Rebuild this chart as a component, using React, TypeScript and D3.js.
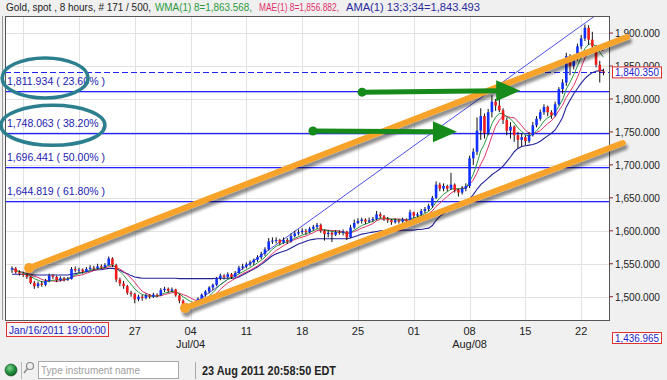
import React from "react";
import * as d3 from "d3";

const W = 667;
const H = 380;

// [open, high, low, close] for each 8-hour bar
const candles: [number, number, number, number][] = [
  [1541, 1546, 1536, 1543], [1543, 1545, 1535, 1537], [1537, 1540, 1532, 1535],
  [1535, 1538, 1530, 1533], [1533, 1536, 1527, 1530], [1530, 1531, 1519, 1521],
  [1521, 1524, 1512, 1516], [1516, 1523, 1513, 1520], [1520, 1524, 1515, 1518],
  [1518, 1527, 1516, 1524], [1524, 1535, 1522, 1532], [1532, 1534, 1527, 1530],
  [1530, 1532, 1522, 1525], [1525, 1531, 1523, 1528], [1528, 1530, 1523, 1526],
  [1526, 1530, 1524, 1527], [1527, 1545, 1526, 1542], [1542, 1546, 1537, 1540],
  [1540, 1544, 1536, 1541], [1541, 1543, 1535, 1538], [1538, 1545, 1537, 1542],
  [1542, 1548, 1540, 1544], [1544, 1547, 1540, 1543], [1543, 1550, 1541, 1546],
  [1546, 1549, 1542, 1545], [1545, 1551, 1543, 1548], [1548, 1561, 1547, 1558],
  [1558, 1560, 1545, 1548], [1548, 1550, 1522, 1526], [1526, 1529, 1516, 1520],
  [1520, 1524, 1512, 1516], [1516, 1518, 1503, 1506], [1506, 1509, 1500, 1504],
  [1504, 1506, 1490, 1496], [1496, 1503, 1493, 1500], [1500, 1503, 1494, 1498],
  [1498, 1505, 1496, 1502], [1502, 1504, 1497, 1500], [1500, 1506, 1498, 1503],
  [1503, 1505, 1499, 1502], [1502, 1513, 1501, 1510], [1510, 1515, 1507, 1512],
  [1512, 1514, 1506, 1509], [1509, 1514, 1507, 1511], [1511, 1512, 1500, 1502],
  [1502, 1504, 1490, 1494], [1494, 1496, 1478, 1484], [1484, 1490, 1480, 1487],
  [1487, 1490, 1483, 1486], [1486, 1492, 1484, 1489], [1489, 1499, 1487, 1497],
  [1497, 1505, 1495, 1503], [1503, 1510, 1500, 1508], [1508, 1516, 1505, 1514],
  [1514, 1520, 1510, 1518], [1518, 1530, 1516, 1528], [1528, 1535, 1525, 1532],
  [1532, 1534, 1526, 1530], [1530, 1537, 1528, 1534], [1534, 1536, 1527, 1530],
  [1530, 1539, 1529, 1536], [1536, 1547, 1535, 1544], [1544, 1550, 1541, 1546],
  [1546, 1552, 1543, 1549], [1549, 1555, 1546, 1552], [1552, 1558, 1548, 1556],
  [1556, 1563, 1553, 1560], [1560, 1568, 1557, 1565], [1565, 1575, 1562, 1572],
  [1572, 1589, 1570, 1584], [1584, 1590, 1580, 1585], [1585, 1590, 1581, 1586],
  [1586, 1588, 1578, 1582], [1582, 1590, 1580, 1586], [1586, 1589, 1580, 1584],
  [1584, 1596, 1582, 1592], [1592, 1600, 1590, 1596], [1596, 1602, 1593, 1598],
  [1598, 1604, 1595, 1600], [1600, 1603, 1594, 1598], [1598, 1606, 1596, 1603],
  [1603, 1609, 1600, 1606], [1606, 1612, 1603, 1609], [1609, 1611, 1597, 1600],
  [1600, 1602, 1585, 1595], [1595, 1601, 1590, 1597], [1597, 1599, 1583, 1594],
  [1594, 1601, 1592, 1598], [1598, 1601, 1594, 1597], [1597, 1602, 1593, 1599],
  [1599, 1600, 1586, 1590], [1590, 1609, 1589, 1605], [1605, 1617, 1603, 1612],
  [1612, 1619, 1610, 1615], [1615, 1620, 1611, 1617], [1617, 1619, 1610, 1614],
  [1614, 1620, 1612, 1616], [1616, 1621, 1613, 1618], [1618, 1630, 1616, 1625],
  [1625, 1628, 1619, 1622], [1622, 1624, 1615, 1618], [1618, 1621, 1612, 1616],
  [1616, 1618, 1609, 1613], [1613, 1619, 1611, 1616], [1616, 1618, 1611, 1614],
  [1614, 1620, 1612, 1617], [1617, 1619, 1612, 1615], [1615, 1632, 1613, 1628],
  [1628, 1629, 1619, 1623], [1623, 1628, 1620, 1625], [1625, 1633, 1622, 1630],
  [1630, 1636, 1627, 1633], [1633, 1641, 1630, 1638], [1638, 1653, 1635, 1650],
  [1650, 1675, 1648, 1670], [1670, 1673, 1660, 1664], [1664, 1672, 1660, 1668],
  [1668, 1670, 1660, 1664], [1664, 1688, 1662, 1670], [1670, 1672, 1658, 1662],
  [1662, 1664, 1652, 1658], [1658, 1668, 1655, 1664], [1664, 1672, 1660, 1668],
  [1668, 1714, 1665, 1710], [1710, 1725, 1700, 1720], [1720, 1772, 1715, 1752],
  [1752, 1786, 1738, 1774], [1774, 1778, 1740, 1748], [1748, 1785, 1745, 1780],
  [1780, 1806, 1772, 1796], [1796, 1800, 1782, 1790], [1790, 1802, 1780, 1783],
  [1783, 1786, 1762, 1768], [1768, 1772, 1745, 1752], [1752, 1765, 1740, 1758],
  [1758, 1760, 1735, 1745], [1745, 1750, 1725, 1738], [1738, 1748, 1728, 1742],
  [1742, 1745, 1730, 1736], [1736, 1750, 1733, 1745], [1745, 1765, 1743, 1760],
  [1760, 1774, 1757, 1770], [1770, 1784, 1767, 1780], [1780, 1792, 1776, 1788],
  [1788, 1790, 1774, 1780], [1780, 1783, 1770, 1775], [1775, 1796, 1773, 1792],
  [1792, 1818, 1790, 1815], [1815, 1830, 1808, 1825], [1825, 1870, 1820, 1865],
  [1865, 1868, 1836, 1850], [1850, 1866, 1845, 1862], [1862, 1884, 1858, 1880],
  [1880, 1897, 1876, 1892], [1892, 1913, 1888, 1908], [1908, 1912, 1882, 1890],
  [1890, 1902, 1876, 1880], [1880, 1882, 1848, 1852], [1852, 1858, 1825, 1842],
  [1842, 1846, 1836, 1840.35],
];

// AMA(13;3;34), one value per bar
const amaValues = [
  1534, 1534, 1534, 1534, 1534, 1534, 1533, 1533, 1533, 1533,
  1533, 1533, 1533, 1533, 1533, 1533, 1534, 1535, 1536, 1537,
  1538, 1539, 1540, 1541, 1541, 1542, 1543, 1543, 1542, 1540,
  1537, 1535, 1532, 1530, 1529, 1528, 1528, 1528, 1528, 1528,
  1528, 1528, 1528, 1528, 1528, 1527.5, 1527.5, 1527.5, 1527.5, 1527.5,
  1527.5, 1527.5, 1527.5, 1527.5, 1527.5, 1528, 1528, 1528, 1528, 1528,
  1528, 1530, 1533, 1536, 1539, 1542, 1545, 1549, 1553, 1558,
  1562, 1565, 1567, 1569, 1571, 1574, 1577, 1580, 1582, 1584,
  1586, 1587, 1588, 1588, 1588, 1588, 1588, 1588, 1588, 1588,
  1588, 1589, 1591, 1593, 1595, 1596, 1597, 1598, 1599, 1600,
  1600, 1600, 1600, 1600, 1600, 1601, 1601, 1601, 1601, 1602,
  1602, 1603, 1604, 1608, 1616, 1622, 1626, 1630, 1634, 1636,
  1638, 1640, 1642, 1648, 1655, 1663, 1670, 1675, 1680, 1685,
  1689, 1693, 1698, 1705, 1712, 1720, 1725, 1728, 1729, 1730,
  1731, 1733, 1736, 1740, 1744, 1748, 1753, 1762, 1772, 1788,
  1798, 1808, 1816, 1824, 1831, 1836, 1840, 1842, 1843, 1843.493,
];

const weekStartIndex = [3, 18, 33, 48, 63, 78, 93, 108, 123, 138, 153];
const weekLabels = ["", "", "27", "04", "11", "18", "25", "01", "08", "15", "22"];
const monthLabels = ["", "", "", "Jul/04", "", "", "", "", "Aug/08", "", ""];
const priceTicks = [1500, 1550, 1600, 1650, 1700, 1750, 1800, 1850, 1900];
const fibValues = [1811.934, 1748.063, 1696.441, 1644.819];
const fibPercents = ["23.60%", "38.20%", "50.00%", "61.80%"];
const fibAnchors = [
  { i: 46, v: 1477.71 },
  { i: 154, v: 1915.18 },
];
const lastPrice = 1840.35;
const cursorDate = "Jan/16/2011 19:00:00";
const cursorPrice = "1,436.965";
const legendParts = [
  "Gold, spot , 8 hours, # 171 / 500,",
  "WMA(1) 8=1,863.568,",
  "MAE(1) 8=1,856.882,",
  "AMA(1) 13;3;34=1,843.493",
];
// annotation trend channel (bar index, price)
const channelLines = [
  { i0: 4.6, v0: 1543.5, i1: 165.3, v1: 1894 },
  { i0: 46.5, v0: 1482.8, i1: 164.2, v1: 1733.2 },
];
const arrows = [
  { i0: 94.1, v0: 1810.4, i1: 136.6, v1: 1812.6 },
  { i0: 80.9, v0: 1751.4, i1: 119.6, v1: 1750.4 },
];
const ellipses = [
  { i: 8.9, v: 1832, rx: 43, ry: 20 },
  { i: 11.0, v: 1760, rx: 52, ry: 20 },
];

const PL = 5, PR = 609, PT = 16, PB = 320;
const FONT = "'Liberation Sans', Arial, sans-serif";

function wma(vals: number[], n: number) {
  return vals.map((_, i) => {
    let s = 0, w = 0;
    for (let k = 0; k < n && i - k >= 0; k++) {
      const wt = n - k;
      s += vals[i - k] * wt;
      w += wt;
    }
    return s / w;
  });
}
function sma(vals: number[], n: number) {
  return vals.map((_, i) => {
    const a = vals.slice(Math.max(0, i - n + 1), i + 1);
    return d3.mean(a) as number;
  });
}

export default function App() {
  const x = d3.scaleLinear().domain([0, 159]).range([12, 603.5]);
  const y = d3.scaleLinear().domain([1500, 1900]).range([296.7, 33.1]);
  const closes = candles.map((c) => c[3]);
  const wmaV = wma(closes, 8);
  const smaV = sma(closes, 8);
  const line = d3
    .line<number>()
    .x((_, i) => x(i))
    .y((d) => y(d));
  const fmt = d3.format(",.3f");
  const bw = 2.6;
  const snap = (v: number) => Math.round(v) + 0.5;

  const fibX0 = x(fibAnchors[0].i), fibY0 = y(fibAnchors[0].v);
  const fibX1 = x(fibAnchors[1].i), fibY1 = y(fibAnchors[1].v);
  const slope = (fibY1 - fibY0) / (fibX1 - fibX0);
  const fibXend = fibX0 + (PT - fibY0) / slope;

  return (
    <svg
      width={W}
      height={H}
      style={{ position: "absolute", left: 0, top: 0, background: "#f0f0f0" }}
      fontFamily={FONT}
    >
      <defs>
        <clipPath id="plot">
          <rect x={PL} y={PT} width={PR - PL} height={PB - PT} />
        </clipPath>
        <filter id="shadow" x="-10%" y="-50%" width="120%" height="200%">
          <feGaussianBlur in="SourceAlpha" stdDeviation="1.6" />
          <feOffset dx="2" dy="4" result="b" />
          <feComponentTransfer>
            <feFuncA type="linear" slope="0.45" />
          </feComponentTransfer>
          <feMerge>
            <feMergeNode />
            <feMergeNode in="SourceGraphic" />
          </feMerge>
        </filter>
        <radialGradient id="led" cx="40%" cy="35%" r="70%">
          <stop offset="0%" stopColor="#7fd68a" />
          <stop offset="60%" stopColor="#1f8a3a" />
          <stop offset="100%" stopColor="#0d5a22" />
        </radialGradient>
      </defs>

      <rect x={0} y={0} width={W} height={H} fill="#f0f0f0" />
      {/* legend */}
      {legendParts.map((t, k) => (
        <text
          key={k}
          x={[6, 155, 259, 346][k]}
          y={11}
          fontSize={10}
          fill={["#222", "#2a9a3c", "#e0306c", "#2a2a9c"][k]}
          textLength={[145, 97, 80, 134][k]}
          lengthAdjust="spacingAndGlyphs"
        >
          {t}
        </text>
      ))}

      {/* plot background */}
      <rect x={PL} y={PT} width={PR - PL} height={PB - PT} fill="#fff" />
      <line x1={2.5} y1={PT} x2={2.5} y2={PB} stroke="#999" />

      {/* grid */}
      <g stroke="#e2e2e2" strokeWidth={1}>
        {priceTicks.map((p) => (
          <line key={p} x1={PL} x2={PR} y1={snap(y(p))} y2={snap(y(p))} />
        ))}
        {weekStartIndex.map((i) => (
          <line key={i} x1={snap(x(i))} x2={snap(x(i))} y1={PT} y2={PB} />
        ))}
      </g>

      <g clipPath="url(#plot)">
        {/* fibonacci levels */}
        {fibValues.map((v) => (
          <rect key={v} x={PL} width={PR - PL} y={Math.round(y(v))} height={1.3} fill="#2222ff" />
        ))}
        <line x1={fibX0} y1={fibY0} x2={fibXend} y2={PT} stroke="#3a3ae0" strokeWidth={0.9} />
        {/* last price */}
        <line x1={PL} x2={PR} y1={snap(y(lastPrice))} y2={snap(y(lastPrice))} stroke="#2222ff" strokeDasharray="6,3" />

        {/* indicators */}
        <path d={line(amaValues) || ""} fill="none" stroke="#23239a" strokeWidth={1.1} />
        <path d={line(smaV) || ""} fill="none" stroke="#e0306c" strokeWidth={1} />
        <path d={line(wmaV) || ""} fill="none" stroke="#2a9a3c" strokeWidth={1} />

        {/* candles */}
        {candles.map(([o, h, l, c], i) => {
          const cx = x(i);
          const up = c > o;
          const flat = Math.abs(c - o) < 1;
          const col = flat ? "#111" : up ? "#1030ff" : "#ee1c1c";
          const top = y(Math.max(o, c));
          const bot = y(Math.min(o, c));
          return (
            <g key={i}>
              <line x1={cx} x2={cx} y1={y(h)} y2={y(l)} stroke="#111" strokeWidth={1} />
              <rect x={cx - bw / 2} y={top} width={bw} height={Math.max(1, bot - top)} fill={col} />
            </g>
          );
        })}
      </g>

      {/* plot frame */}
      <rect x={PL + 0.5} y={PT + 0.5} width={PR - PL} height={PB - PT} fill="none" stroke="#555" />

      {/* fib labels */}
      {fibValues.map((v, k) => (
        <text key={v} x={7} y={y(v) - 6.5} fontSize={10.5} fill="#1c1cb0" textLength={98} lengthAdjust="spacingAndGlyphs">
          {`${fmt(v)} ( ${fibPercents[k]} )`}
        </text>
      ))}

      {/* right axis */}
      {priceTicks.map((p) => (
        <g key={p}>
          <line x1={PR} x2={PR + 4} y1={y(p)} y2={y(p)} stroke="#8a2020" />
          <text x={615} y={y(p) + 4} fontSize={11} fill="#222" textLength={45} lengthAdjust="spacingAndGlyphs">
            {fmt(p)}
          </text>
        </g>
      ))}
      <rect x={612.5} y={y(lastPrice) - 5.5} width={49} height={11} fill="#fff" stroke="#e03030" />
      <text x={615} y={y(lastPrice) + 4} fontSize={11} fill="#1c1cc8" textLength={44} lengthAdjust="spacingAndGlyphs">
        {fmt(lastPrice)}
      </text>
      <rect x={612.5} y={332.5} width={49} height={11} fill="#fff" stroke="#e03030" />
      <text x={615} y={342} fontSize={11} fill="#1c1cc8" textLength={44} lengthAdjust="spacingAndGlyphs">
        {cursorPrice}
      </text>

      {/* bottom axis */}
      {weekStartIndex.map((i, k) => (
        <g key={i}>
          {weekLabels[k] && (
            <text x={x(i)} y={335} fontSize={11} fill="#222" textAnchor="middle">
              {weekLabels[k]}
            </text>
          )}
          {monthLabels[k] && (
            <text x={x(i)} y={348} fontSize={11} fill="#222" textAnchor="middle">
              {monthLabels[k]}
            </text>
          )}
        </g>
      ))}
      <rect x={6.5} y={322.5} width={102} height={14} fill="#f4f4f4" stroke="#e03030" />
      <text x={9} y={333.5} fontSize={11} fill="#1c1cc8" textLength={97} lengthAdjust="spacingAndGlyphs">
        {cursorDate}
      </text>

      {/* annotations */}
      <g filter="url(#shadow)">
        {channelLines.map((c, k) => (
          <g key={k}>
            <line x1={x(c.i0)} y1={y(c.v0)} x2={x(c.i1)} y2={y(c.v1)} stroke="#f7a32c" strokeWidth={6} strokeLinecap="round" />
            <circle cx={x(c.i0)} cy={y(c.v0)} r={5} fill="#f7a32c" />
          </g>
        ))}
      </g>
      {arrows.map((a, k) => {
        const x0 = x(a.i0), y0 = y(a.v0), x1 = x(a.i1), y1 = y(a.v1);
        const hl = 24, hw = 10.5;
        return (
          <g key={k} fill="#178a1c">
            <line x1={x0} y1={y0} x2={x1 - hl + 2} y2={y1} stroke="#178a1c" strokeWidth={5} />
            <circle cx={x0} cy={y0} r={4.5} />
            <path d={`M${x1},${y1} L${x1 - hl},${y1 - hw} L${x1 - hl},${y1 + hw} Z`} />
          </g>
        );
      })}
      {ellipses.map((e, k) => (
        <ellipse key={k} cx={x(e.i)} cy={y(e.v)} rx={e.rx} ry={e.ry} fill="none" stroke="#2b7f8e" strokeWidth={3.5} />
      ))}

      {/* status bar */}
      <circle cx={11} cy={370} r={6} fill="url(#led)" stroke="#0d4a1c" strokeWidth={0.6} />
      <line x1={21.5} x2={21.5} y1={362} y2={379} stroke="#b8b8b8" />
      <circle cx={30} cy={366} r={3.5} fill="none" stroke="#8a8a8a" strokeWidth={1.2} />
      <line x1={27.5} y1={368.5} x2={24} y2={373} stroke="#8a8a8a" strokeWidth={1.5} />
      <rect x={38.5} y={361.5} width={140} height={17} fill="#fff" stroke="#a8a8a8" />
      <text x={41} y={374} fontSize={11} fill="#a0a0a0" textLength={99} lengthAdjust="spacingAndGlyphs">
        Type instrument name
      </text>
      <line x1={195.5} x2={195.5} y1={362} y2={379} stroke="#a8a8a8" />
      <text x={202} y={375} fontSize={12} fontWeight="bold" fill="#222" textLength={134} lengthAdjust="spacingAndGlyphs">
        23 Aug 2011 20:58:50 EDT
      </text>
    </svg>
  );
}
